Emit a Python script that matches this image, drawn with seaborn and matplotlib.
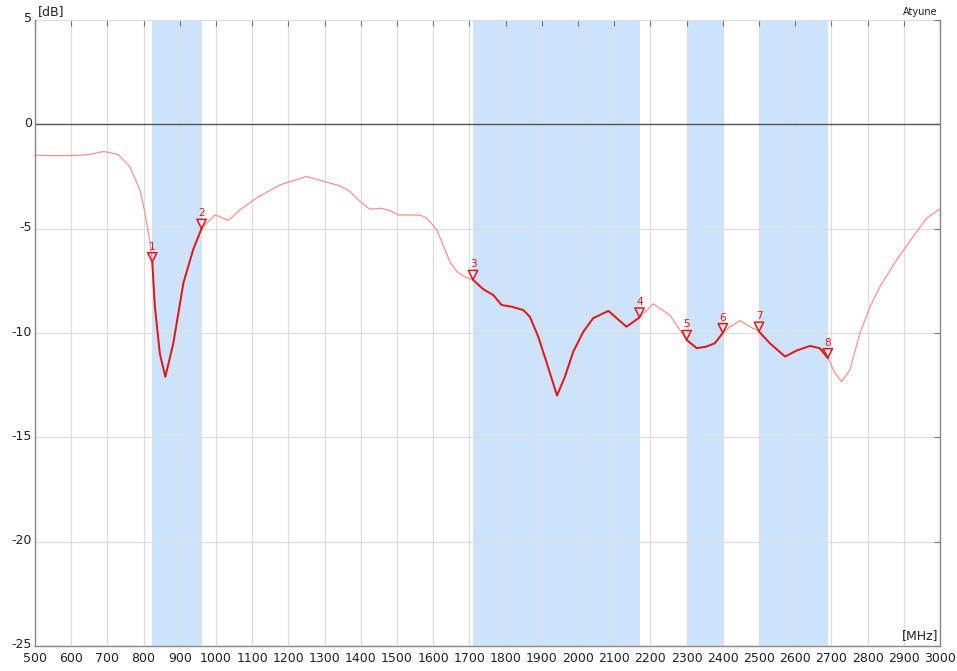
import numpy as np
import pandas as pd
import seaborn as sns
import matplotlib
matplotlib.use("Agg")
import matplotlib.pyplot as plt
from matplotlib.transforms import ScaledTranslation

# return loss curve
freq = [500, 550, 600, 650, 690, 730, 762, 790, 804, 818, 824, 831, 845, 860,
        882, 910, 937, 960, 997, 1035, 1066, 1112, 1177, 1250, 1301, 1343, 1370,
        1398, 1425, 1453, 1481, 1503, 1564, 1582, 1610, 1627, 1646, 1665, 1692,
        1710, 1738, 1766, 1789, 1817, 1849, 1867, 1890, 1914, 1942, 1964, 1987,
        2015, 2042, 2084, 2107, 2134, 2170, 2208, 2254, 2300, 2328, 2355, 2378,
        2400, 2420, 2448, 2475, 2500, 2530, 2572, 2604, 2641, 2668, 2690, 2710,
        2728, 2751, 2779, 2807, 2834, 2880, 2926, 2963, 3000]
db = [-1.48, -1.5, -1.5, -1.45, -1.3, -1.45, -2.03, -3.15, -4.26, -5.7, -6.6,
      -8.7, -11.0, -12.1, -10.5, -7.6, -6.0, -5.0, -4.34, -4.6, -4.1, -3.53,
      -2.9, -2.5, -2.75, -2.95, -3.22, -3.7, -4.07, -4.02, -4.13, -4.34, -4.35,
      -4.49, -5.06, -5.78, -6.58, -7.06, -7.35, -7.45, -7.9, -8.18, -8.66,
      -8.74, -8.9, -9.22, -10.17, -11.45, -13.0, -12.09, -10.89, -9.93, -9.29,
      -8.94, -9.29, -9.7, -9.25, -8.6, -9.15, -10.33, -10.73, -10.65, -10.49,
      -10.0, -9.7, -9.41, -9.7, -9.93, -10.49, -11.13, -10.84, -10.62, -10.73,
      -11.2, -11.93, -12.33, -11.77, -10.0, -8.74, -7.78, -6.5, -5.38, -4.5,
      -4.05]

# frequency bands (MHz)
band_lo = [824, 1710, 2300, 2500]
band_hi = [960, 2170, 2400, 2690]

# markers
marker_id = ["1", "2", "3", "4", "5", "6", "7", "8"]
marker_freq = [824, 960, 1710, 2170, 2300, 2400, 2500, 2690]

df = pd.DataFrame({"freq": freq, "db": db})
mk = df[df.freq.isin(marker_freq)].copy()
mk["id"] = marker_id

sns.set_style("white")
plt.rcParams["font.family"] = ["DejaVu Sans"]
plt.rcParams["axes.unicode_minus"] = False

fig = plt.figure(figsize=(9.57, 6.71), dpi=100)
ax = fig.add_axes([35 / 957, 1 - 646 / 671, 905 / 957, 626 / 671])

for lo, hi in zip(band_lo, band_hi):
    ax.axvspan(lo, hi, color="#cce4fb", lw=0, zorder=0)

ax.set_axisbelow(True)
ax.grid(True, color="#dddddd", lw=0.9)
ax.axhline(0, color="#555555", lw=1.0, zorder=1)

# full sweep in light red
sns.lineplot(data=df, x="freq", y="db", ax=ax, color="#ff8f8f", lw=0.9,
             zorder=2)
# in-band parts in solid red
for lo, hi in zip(band_lo, band_hi):
    seg = df[(df.freq >= lo) & (df.freq <= hi)]
    sns.lineplot(data=seg, x="freq", y="db", ax=ax, color="#ee1111", lw=1.4,
                 zorder=3)

# marker triangles, apex sitting on the curve
sns.scatterplot(data=mk, x="freq", y="db", ax=ax, marker="v", s=45,
                facecolor="none", edgecolor="#ee1111", linewidth=1.1, zorder=4)
coll = ax.collections[-1]
coll.set_offset_transform(ax.transData +
                          ScaledTranslation(0, 3.4 / 72, fig.dpi_scale_trans))
for f, v, t in zip(mk.freq, mk.db, mk.id):
    ax.annotate(t, (f, v), xytext=(0, 7.5), textcoords="offset points",
                ha="center", va="bottom", color="#ee1111", fontsize=7.5)

ax.set_xlim(500, 3000)
ax.set_ylim(-25, 5)
ax.set_xticks(range(500, 3001, 100))
ax.set_yticks(range(-25, 6, 5))
ax.set_xlabel("")
ax.set_ylabel("")

for side in ["left", "bottom", "right"]:
    ax.spines[side].set_color("#888888")
    ax.spines[side].set_linewidth(1.0)
ax.spines["top"].set_visible(False)

ax.tick_params(direction="in", length=4, width=0.8, color="#777777",
               top=True, right=True, labelsize=9, labelcolor="#222222")
ax.tick_params(axis="x", pad=4)
ax.tick_params(axis="y", pad=2)

# nudge y labels up a little like the reference
lift = ScaledTranslation(0, 2.5 / 100, fig.dpi_scale_trans)
for lab in ax.get_yticklabels():
    lab.set_transform(lab.get_transform() + lift)

ax.text(0.003, 1.003, "[dB]", transform=ax.transAxes, ha="left",
        va="bottom", fontsize=9, color="#222222")
ax.text(0.997, 1.004, "Atyune", transform=ax.transAxes, ha="right",
        va="bottom", fontsize=7, color="#222222")
ax.text(0.998, 0.006, "[MHz]", transform=ax.transAxes, ha="right",
        va="bottom", fontsize=9, color="#222222")

fig.savefig("out.png", dpi=100)
